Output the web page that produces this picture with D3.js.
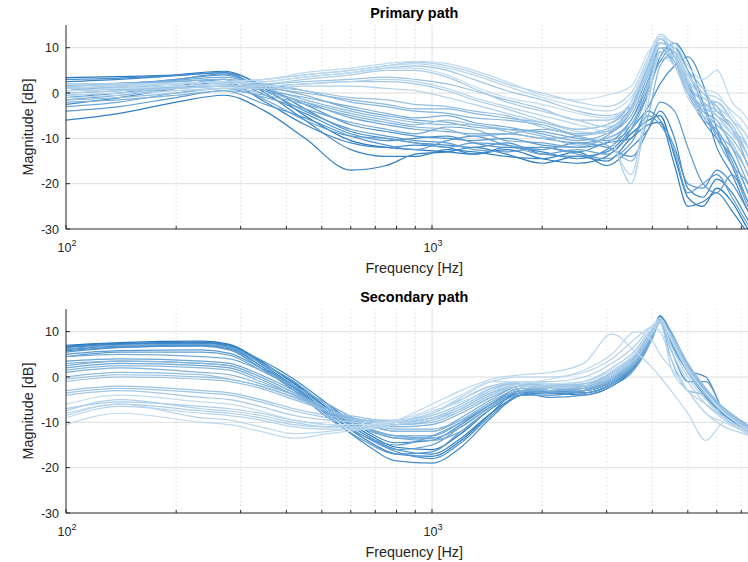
<!DOCTYPE html>
<html>
<head>
<meta charset="utf-8">
<script src="https://cdn.jsdelivr.net/npm/d3@7"></script>
<style>
  html, body { margin: 0; padding: 0; background: #fff; }
  svg { display: block; font-family: "Liberation Sans", Arial, Helvetica, sans-serif; }
</style>
</head>
<body>
<svg id="chart" width="748" height="562"></svg>
<script>
// ---------------- DATA ----------------
const titles = ["Primary path", "Secondary path"];
const xLabel = "Frequency [Hz]";
const yLabel = "Magnitude [dB]";
const yTicks = [-30, -20, -10, 0, 10];
const xMajorTicks = [100, 1000];
const xMajorExp = ["2", "3"];
const xMinorTicks = [200, 300, 400, 500, 600, 700, 800, 900, 2000, 3000, 4000, 5000, 6000, 7000];

const freqPrimary = [100, 140, 200, 270, 350, 450, 600, 750, 900, 1100, 1300, 1600, 2000, 2500, 3000, 3500, 3900, 4200, 4600, 5000, 5500, 6000, 6600, 7300, 8000];
const primary = [
  [3.4, 3.6, 4.0, 4.8, 1.0, -5.0, -10.5, -12.0, -12.5, -13.0, -13.5, -12.5, -14.5, -15.5, -14.0, -9.0, -6.0, -5.0, -14.0, -23.0, -25.0, -21.0, -24.0, -30.0, -34],
  [-6.0, -4.5, -2.0, -0.5, -4.0, -10.0, -17.0, -16.0, -13.5, -13.0, -12.0, -13.5, -15.5, -14.0, -15.0, -10.0, -7.0, -6.5, -16.0, -25.0, -24.0, -22.0, -26.0, -31, -35],
  [2.5, 3.0, 3.8, 4.5, 0.0, -6.0, -12.5, -14.0, -14.0, -12.5, -13.0, -14.0, -14.5, -13.0, -16.0, -12.0, -8.0, -4.0, -10.0, -21.0, -23.0, -19.0, -22.0, -28, -33],
  [-2.5, -1.0, 1.0, 2.5, -2.0, -7.0, -11.0, -12.0, -11.5, -12.0, -13.5, -12.0, -13.0, -14.5, -12.5, -7.0, 0.0, 8.0, 11.0, 7.0, -2.0, -12.0, -18.0, -26, -32],
  [3.0, 3.3, 3.9, 4.5, 1.5, -3.5, -8.5, -10.0, -11.0, -11.5, -12.0, -11.0, -13.5, -14.0, -13.0, -8.0, -3.0, 2.0, 6.0, 8.0, 2.0, -8.0, -16.0, -24, -30],
  [-1.0, 0.0, 1.5, 3.0, -0.5, -4.5, -9.0, -10.5, -10.0, -9.5, -11.0, -12.0, -12.0, -13.0, -11.0, -10.0, -4.0, -6.0, -12.0, -20.0, -21.0, -17.0, -20.0, -26, -32],
  [1.5, 2.0, 3.0, 4.0, 1.0, -2.5, -7.0, -8.5, -9.5, -10.0, -10.5, -10.0, -11.5, -12.0, -11.0, -6.0, 2.0, 10.0, 9.0, 2.0, -6.0, -10.0, -14.0, -22, -30],
  [-4.0, -3.0, -1.0, 0.5, -2.5, -5.5, -9.5, -11.5, -12.5, -10.5, -9.5, -11.5, -12.5, -11.0, -12.0, -14.0, -8.0, -2.0, -4.0, -12.0, -20.0, -22.0, -18.0, -25, -31],
  [0.5, 1.5, 3.0, 4.2, 0.5, -4.0, -8.0, -9.5, -10.5, -11.0, -12.5, -13.0, -12.0, -13.5, -14.5, -11.0, -5.0, -7.0, -13.0, -22.0, -20.0, -18.0, -23.0, -29, -33],
  [-1.5, -0.5, 1.0, 2.0, -1.5, -6.0, -9.5, -10.0, -11.0, -12.0, -11.0, -11.5, -13.5, -12.5, -13.5, -8.0, 1.0, 7.0, 10.0, 5.0, -3.0, -9.0, -15.0, -24, -30],
  [1.0, 1.5, 2.5, 3.0, 0.5, -2.0, -5.5, -7.0, -8.0, -8.5, -9.0, -9.0, -10.0, -11.0, -10.0, -6.0, 3.0, 9.0, 7.0, 0.0, -6.0, -8.0, -14.0, -22, -30],
  [-3.0, -2.0, 0.0, 1.0, -1.0, -3.5, -6.5, -8.0, -9.0, -7.5, -8.0, -10.5, -11.0, -12.0, -9.5, -4.0, 5.0, 12.0, 8.0, 2.0, -4.0, -6.0, -12.0, -20, -28],
  [2.0, 2.2, 2.8, 3.5, 1.5, -0.5, -3.5, -5.0, -6.0, -6.5, -7.5, -8.0, -8.5, -10.0, -10.5, -8.0, 0.0, 7.0, 8.0, 4.0, -2.0, -10.0, -16.0, -20, -28],
  [0.0, 0.5, 1.5, 2.0, 0.5, -1.0, -3.0, -4.5, -5.5, -5.0, -6.5, -7.5, -9.0, -10.5, -9.0, -5.0, 4.0, 10.0, 6.0, 0.0, -3.0, -5.0, -8.0, -16, -26],
  [-2.0, -1.5, -0.5, 0.5, -0.5, -2.5, -5.0, -6.5, -7.5, -8.0, -9.5, -9.0, -8.0, -9.5, -11.5, -15.0, -5.0, 6.0, 9.0, 3.0, -5.0, -9.0, -12.0, -18, -28],
  [1.5, 2.0, 2.5, 3.0, 2.0, 0.5, -2.0, -3.0, -4.0, -4.5, -5.5, -6.0, -7.0, -9.0, -8.0, -3.0, 6.0, 11.0, 9.0, 4.0, 0.0, -3.0, -8.0, -14, -24],
  [-0.5, 0.0, 1.0, 1.5, 1.0, 0.0, -1.5, -2.5, -3.5, -3.5, -4.5, -5.5, -6.5, -8.0, -7.0, -2.0, 7.0, 12.0, 8.0, 1.0, -4.0, -7.0, -10.0, -16, -26],
  [0.5, 1.0, 2.0, 2.5, 1.0, -1.5, -4.0, -5.5, -6.5, -7.0, -7.0, -8.5, -10.0, -9.5, -8.5, -4.0, 5.0, 11.0, 10.0, 5.0, 1.0, -4.0, -7.0, -14, -24],
  [-1.5, -1.0, 0.0, 1.0, 0.0, -2.0, -4.5, -6.0, -7.0, -6.0, -7.0, -8.0, -9.5, -11.5, -10.0, -7.0, 2.0, 9.0, 7.0, 1.0, -5.0, -7.0, -11.0, -18, -28],
  [1.0, 1.5, 2.0, 2.5, 1.5, 0.5, -1.0, -1.5, -2.5, -3.0, -4.0, -5.0, -7.5, -9.0, -8.5, -3.5, 6.0, 12.0, 9.0, 2.0, -2.0, -5.0, -9.0, -14, -24],
  [0.5, 0.8, 1.2, 1.5, 2.0, 2.5, 3.0, 3.5, 3.0, 2.0, 0.5, -1.5, -3.5, -6.0, -6.0, -2.0, 6.0, 10.0, 7.0, 0.0, -3.0, -2.0, -6.0, -12, -22],
  [1.0, 1.2, 1.5, 2.0, 2.5, 3.5, 4.5, 5.5, 6.0, 5.0, 3.0, 0.5, -1.5, -4.0, -5.0, -3.0, 4.0, 9.0, 8.0, 2.0, -2.0, -4.0, -8.0, -14, -24],
  [0.0, 0.5, 1.0, 1.5, 1.5, 2.0, 2.5, 2.5, 2.0, 0.5, -1.5, -3.5, -6.0, -8.0, -7.0, -3.0, 5.0, 10.0, 8.0, 0.0, -4.0, -4.0, -8.0, -12, -22],
  [0.0, 0.5, 1.0, 1.5, 2.0, 3.0, 4.0, 5.0, 5.0, 3.5, 1.0, -2.0, -4.0, -6.0, -7.5, -4.0, 5.0, 11.0, 9.0, 3.0, -1.0, -3.0, -6.0, -10, -20],
  [-1.0, -0.5, 0.5, 1.0, 1.0, 1.5, 1.5, 1.0, 0.5, -1.0, -2.5, -4.5, -6.5, -8.5, -9.0, -20.0, -2.0, 9.0, 8.0, 1.0, -3.0, -5.0, -9.0, -14, -24],
  [1.5, 1.8, 2.0, 2.5, 3.0, 4.0, 5.0, 6.0, 6.8, 6.0, 4.5, 2.0, 0.0, -2.0, -3.0, 0.0, 8.0, 13.0, 10.0, 4.0, 0.0, -1.0, -4.0, -8, -18],
  [-0.5, 0.0, 0.5, 1.0, 1.5, 2.0, 2.5, 3.0, 2.5, 1.0, -1.0, -3.0, -5.0, -7.0, -9.0, -18.0, 0.0, 8.0, 6.0, -1.0, -5.0, -6.0, -9.0, -12, -20],
  [1.0, 1.5, 2.0, 2.5, 3.0, 4.0, 5.0, 6.0, 6.5, 5.5, 4.0, 1.5, -1.0, -3.0, -4.0, -1.0, 7.0, 12.0, 9.0, 3.0, -1.0, -2.0, -6.0, -10, -20],
  [2.0, 2.0, 2.2, 2.5, 3.0, 4.5, 5.5, 6.5, 7.0, 6.5, 5.0, 2.5, -0.5, -1.5, -0.5, 1.5, 9.0, 12.0, 11.0, 6.0, 3.0, 5.0, -2.0, -6, -16],
  [0.5, 1.0, 1.5, 2.0, 2.5, 3.5, 4.5, 5.5, 5.5, 4.0, 1.5, -1.0, -2.5, -4.5, -5.5, -2.0, 7.0, 12.5, 10.0, 4.0, 1.0, 0.0, -5.0, -10, -20]
];

const freqSecondary = [100, 140, 235, 280, 340, 420, 520, 650, 800, 1000, 1200, 1450, 1750, 2100, 2600, 3100, 3600, 4000, 4200, 4500, 5000, 5600, 6300, 7100, 8000];
const secondary = [
  [7.0, 7.6, 7.9, 7.2, 3.5, -1.5, -7.0, -12.0, -15.5, -16.0, -12.5, -7.0, -3.5, -3.0, -3.5, -1.5, 3.0, 9.5, 13.5, 9.0, 2.0, -3.5, -7.5, -10.5, -13],
  [6.8, 7.4, 7.6, 7.0, 3.0, -2.0, -8.0, -13.5, -17.0, -17.5, -14.0, -8.0, -3.0, -3.5, -4.0, -2.0, 2.5, 9.0, 13.0, 8.5, 1.5, -4.0, -8.0, -11.0, -13.5],
  [6.6, 7.3, 7.7, 7.0, 3.3, -1.2, -7.0, -12.5, -16.0, -17.0, -13.5, -8.0, -4.0, -3.5, -3.5, -1.5, 3.0, 9.5, 13.5, 9.0, 2.0, -3.5, -8.0, -11.0, -13.5],
  [6.5, 7.2, 7.4, 6.8, 3.8, -0.5, -6.0, -11.5, -14.5, -14.0, -10.5, -6.0, -2.5, -3.0, -3.0, -1.0, 3.5, 10.0, 13.5, 8.0, 1.0, -4.5, -8.5, -11.0, -14],
  [6.0, 6.8, 7.0, 6.5, 2.5, -2.5, -8.5, -14.5, -18.5, -19.0, -15.5, -9.0, -4.0, -4.0, -3.0, -0.5, 4.0, 10.5, 13.0, 7.5, 1.5, 0.0, -8.0, -11.5, -14],
  [5.8, 6.6, 6.9, 6.2, 2.5, -2.2, -8.0, -13.0, -16.5, -18.0, -14.5, -8.5, -4.0, -3.0, -3.5, -1.5, 2.5, 9.0, 13.0, 9.0, 2.0, -3.5, -7.5, -10.5, -13],
  [5.5, 6.5, 6.8, 6.0, 2.0, -3.0, -9.0, -14.0, -17.0, -16.5, -12.0, -7.0, -3.5, -4.5, -4.0, -2.0, 2.0, 8.5, 12.5, 9.5, 3.0, -3.0, -7.0, -10.0, -13],
  [5.0, 5.8, 6.0, 5.2, 2.0, -2.0, -7.5, -12.5, -16.0, -15.0, -11.0, -6.5, -3.0, -2.5, -3.5, -1.5, 3.0, 9.0, 13.5, 10.0, 2.5, -3.5, -7.5, -10.5, -13],
  [4.5, 5.5, 5.5, 4.8, 1.5, -2.5, -8.0, -13.0, -15.0, -13.0, -10.0, -6.0, -3.0, -3.0, -3.0, -1.0, 3.5, 9.5, 12.0, 6.0, -1.0, -1.0, -8.0, -11.0, -13],
  [6.2, 7.0, 7.2, 6.6, 3.2, -1.0, -6.5, -11.0, -13.5, -13.5, -11.0, -6.5, -3.0, -3.0, -3.0, -1.0, 3.0, 9.0, 13.0, 8.5, 2.0, -4.0, -8.0, -11.0, -13.5],
  [3.5, 4.0, 3.5, 3.0, 0.5, -3.0, -7.5, -11.0, -13.0, -13.0, -10.0, -6.0, -3.0, -3.5, -3.0, -1.0, 3.0, 9.0, 12.5, 9.0, 2.0, -3.5, -7.5, -10.5, -13],
  [2.0, 3.0, 2.5, 2.0, -0.5, -4.0, -8.0, -11.5, -13.5, -14.0, -12.0, -7.0, -3.5, -2.5, -3.0, -0.5, 3.5, 10.0, 13.0, 8.0, 1.5, -3.0, -8.0, -11.0, -13],
  [4.5, 5.0, 4.5, 4.0, 1.5, -2.0, -6.0, -10.0, -12.0, -12.0, -9.0, -5.0, -2.0, -2.5, -2.5, 0.0, 4.0, 10.0, 12.5, 8.5, 2.0, -3.0, -7.0, -10.0, -12.5],
  [2.5, 3.5, 3.0, 2.5, 0.0, -3.5, -7.5, -11.0, -13.0, -13.5, -11.0, -6.5, -3.0, -3.0, -2.5, 0.0, 4.0, 10.0, 13.0, 9.0, 2.0, -3.5, -7.5, -10.5, -13],
  [1.0, 2.0, 1.0, 0.5, -1.5, -4.0, -7.5, -10.0, -11.0, -10.5, -8.0, -4.5, -2.0, -2.5, -3.0, -0.5, 3.0, 8.5, 12.0, 9.0, 2.5, -3.0, -7.0, -10.5, -13],
  [3.0, 3.5, 3.0, 2.5, 0.0, -3.5, -7.0, -10.0, -11.5, -11.5, -9.5, -5.5, -2.5, -3.0, -2.0, 1.0, 5.0, 10.5, 12.0, 4.0, -3.0, -4.0, -9.0, -11.5, -13.5],
  [1.5, 2.5, 2.0, 1.5, -1.0, -4.0, -7.5, -10.5, -12.0, -12.0, -9.5, -5.5, -2.5, -2.5, -2.5, 0.0, 3.5, 9.5, 12.5, 8.5, 2.0, -3.0, -7.5, -10.5, -13],
  [0.0, 1.0, 0.5, -0.5, -2.0, -4.5, -7.5, -9.5, -10.5, -9.5, -7.0, -3.5, -1.5, -1.5, -2.0, 0.5, 4.5, 10.5, 12.5, 9.0, 2.5, -3.0, -7.5, -10.5, -13],
  [-0.5, 0.5, 0.0, -0.5, -2.0, -4.5, -7.5, -9.5, -10.5, -10.0, -7.5, -4.0, -1.5, -2.0, -2.0, 0.5, 4.5, 10.0, 12.5, 9.0, 2.5, -2.5, -7.0, -10.0, -12.5],
  [-1.0, 0.0, -0.5, -1.0, -2.5, -5.0, -7.5, -9.0, -10.0, -9.0, -6.5, -3.0, -1.0, -1.5, -2.0, 0.0, 4.0, 9.5, 12.0, 9.5, 3.0, -2.5, -7.0, -10.0, -12.5],
  [-3.0, -2.0, -3.0, -3.5, -5.0, -7.0, -8.5, -9.5, -9.5, -8.0, -5.0, -2.0, -1.5, -2.0, -1.5, 1.0, 5.0, 10.5, 12.5, 8.0, 1.0, -4.0, -8.0, -11.0, -13.5],
  [-3.5, -2.5, -3.5, -4.0, -5.5, -7.5, -9.0, -10.0, -10.0, -8.5, -6.0, -2.5, -1.5, -2.0, -1.5, 1.0, 5.0, 10.5, 12.5, 8.5, 1.5, -3.5, -8.0, -11.0, -13.5],
  [-4.0, -3.0, -4.5, -5.0, -6.5, -8.5, -9.5, -10.0, -10.0, -9.0, -7.0, -3.5, -2.0, -2.5, -2.0, 0.5, 4.0, 9.5, 12.0, 9.0, 2.0, -3.5, -7.5, -10.5, -13],
  [-7.0, -5.5, -6.5, -7.0, -8.0, -9.5, -10.5, -11.0, -10.5, -9.5, -7.5, -4.0, -2.0, -2.0, -1.0, 2.0, 6.0, 11.0, 12.5, 7.0, 0.0, -5.0, -9.0, -11.5, -14],
  [-8.5, -6.0, -7.5, -8.0, -9.0, -10.5, -11.0, -11.0, -10.0, -8.5, -6.0, -2.5, -1.0, -1.0, 0.0, 3.0, 7.0, 11.5, 12.5, 6.0, -1.0, -6.0, -9.5, -12.0, -14],
  [-7.5, -5.0, -7.0, -7.5, -8.5, -10.0, -11.0, -11.0, -10.0, -8.0, -5.0, -2.0, -1.0, -1.5, -1.0, 1.5, 5.0, 10.0, 12.0, 2.0, -3.0, -6.0, -9.0, -11.5, -13.5],
  [-9.0, -6.5, -8.0, -8.5, -9.5, -11.0, -11.5, -11.5, -10.5, -8.0, -4.5, -1.0, 0.0, 0.0, 1.0, 4.0, 8.5, 11.0, 10.0, 4.0, -3.0, -8.0, -11.0, -12.5, -14],
  [-8.0, -6.0, -9.0, -9.5, -11.0, -12.5, -12.0, -11.0, -9.5, -6.0, -3.0, -0.5, 0.5, 1.0, 3.0, 9.5, 5.5, 2.0, 0.0, -3.0, -8.0, -14.0, -10.0, -12.0, -13.5],
  [-10.5, -8.0, -10.0, -10.5, -12.0, -13.5, -12.5, -11.5, -10.0, -7.5, -5.5, -3.0, -1.5, -0.5, 1.5, 5.0, 10.0, 8.0, 5.0, 2.0, -3.0, -8.0, -10.0, -12.0, -13.5],
  [-6.0, -4.0, -5.5, -6.0, -7.5, -9.5, -10.5, -10.5, -9.5, -7.0, -4.0, -1.0, -1.0, -1.5, -1.0, 1.5, 5.5, 11.0, 13.0, 8.5, 1.5, -3.5, -8.0, -11.0, -13.5]
];

// ---------------- DRAW ----------------
const svg = d3.select("#chart");
const left = 66;
const decadePx = 366;
const xMax = 8000;
const xRight = left + decadePx * Math.log10(xMax / 100);
const axisColor = "#262626";
const gridColor = "#dedede";
const darkC = "#2377bf", lightC = "#c2dcf0";

const panels = [
  { title: titles[0], freq: freqPrimary, rows: primary, top: 25, bottom: 229 },
  { title: titles[1], freq: freqSecondary, rows: secondary, top: 309, bottom: 513 }
];

const defs = svg.append("defs");

panels.forEach((p, pi) => {
  const x = d3.scaleLog().domain([100, xMax]).range([left, xRight]);
  const y = d3.scaleLinear().domain([-30, 15]).range([p.bottom, p.top]);
  const g = svg.append("g");

  // grid
  const grid = g.append("g");
  grid.selectAll("line.h").data(yTicks.filter(t => t > -30)).join("line")
    .attr("x1", left).attr("x2", xRight)
    .attr("y1", d => y(d)).attr("y2", d => y(d))
    .attr("stroke", gridColor).attr("stroke-width", 1);
  grid.selectAll("line.vm").data(xMinorTicks).join("line")
    .attr("x1", d => x(d)).attr("x2", d => x(d))
    .attr("y1", p.top).attr("y2", p.bottom)
    .attr("stroke", "#d4d4d4").attr("stroke-width", 1).attr("stroke-dasharray", "1,3");
  grid.append("line")
    .attr("x1", x(1000)).attr("x2", x(1000)).attr("y1", p.top).attr("y2", p.bottom)
    .attr("stroke", gridColor).attr("stroke-width", 1);

  // clip
  const cid = "clip" + pi;
  defs.append("clipPath").attr("id", cid).append("rect")
    .attr("x", left).attr("y", p.top).attr("width", xRight - left).attr("height", p.bottom - p.top);

  const line = d3.line()
    .x((d, i) => x(p.freq[i]))
    .y(d => y(d))
    .curve(d3.curveMonotoneX);
  const n = p.rows.length;
  const color = i => d3.interpolateRgb(darkC, lightC)(Math.pow(i / (n - 1), 0.75));
  g.append("g").attr("clip-path", `url(#${cid})`)
    .selectAll("path").data(p.rows).join("path")
    .attr("d", line)
    .attr("fill", "none")
    .attr("stroke", (d, i) => color(i))
    .attr("stroke-width", 1.2)
    .attr("stroke-linejoin", "round");

  // axes lines
  g.append("line").attr("x1", left).attr("x2", left).attr("y1", p.top).attr("y2", p.bottom)
    .attr("stroke", axisColor).attr("stroke-width", 1);
  g.append("line").attr("x1", left).attr("x2", xRight).attr("y1", p.bottom).attr("y2", p.bottom)
    .attr("stroke", axisColor).attr("stroke-width", 1);

  // y ticks
  g.selectAll("line.yt").data(yTicks).join("line")
    .attr("x1", left).attr("x2", left + 4)
    .attr("y1", d => y(d)).attr("y2", d => y(d))
    .attr("stroke", axisColor);
  g.selectAll("text.yl").data(yTicks).join("text")
    .attr("x", left - 7).attr("y", d => y(d) + 4.5)
    .attr("text-anchor", "end").attr("font-size", 12.5).attr("fill", axisColor)
    .text(d => d);

  // x ticks
  g.selectAll("line.xt").data(xMajorTicks).join("line")
    .attr("x1", d => x(d)).attr("x2", d => x(d))
    .attr("y1", p.bottom).attr("y2", p.bottom - 4).attr("stroke", axisColor);
  g.selectAll("line.xm").data(xMinorTicks).join("line")
    .attr("x1", d => x(d)).attr("x2", d => x(d))
    .attr("y1", p.bottom).attr("y2", p.bottom - 3).attr("stroke", axisColor);
  xMajorTicks.forEach((t, i) => {
    const tx = g.append("text")
      .attr("x", x(t) + 1).attr("y", p.bottom + 23)
      .attr("text-anchor", "middle").attr("font-size", 12.5).attr("fill", axisColor);
    tx.append("tspan").text("10");
    tx.append("tspan").attr("dy", -6).attr("font-size", 9).text(xMajorExp[i]);
  });

  // labels
  g.append("text").attr("x", (left + xRight) / 2).attr("y", p.bottom + 44)
    .attr("text-anchor", "middle").attr("font-size", 14.4).attr("fill", axisColor)
    .text(xLabel);
  g.append("text")
    .attr("transform", `translate(33,${(p.top + p.bottom) / 2}) rotate(-90)`)
    .attr("text-anchor", "middle").attr("font-size", 14.4).attr("fill", axisColor)
    .text(yLabel);
  g.append("text").attr("x", (left + xRight) / 2).attr("y", p.top - 7)
    .attr("text-anchor", "middle").attr("font-size", 14.4).attr("font-weight", "bold").attr("fill", "#000")
    .text(p.title);
});
</script>
</body>
</html>
